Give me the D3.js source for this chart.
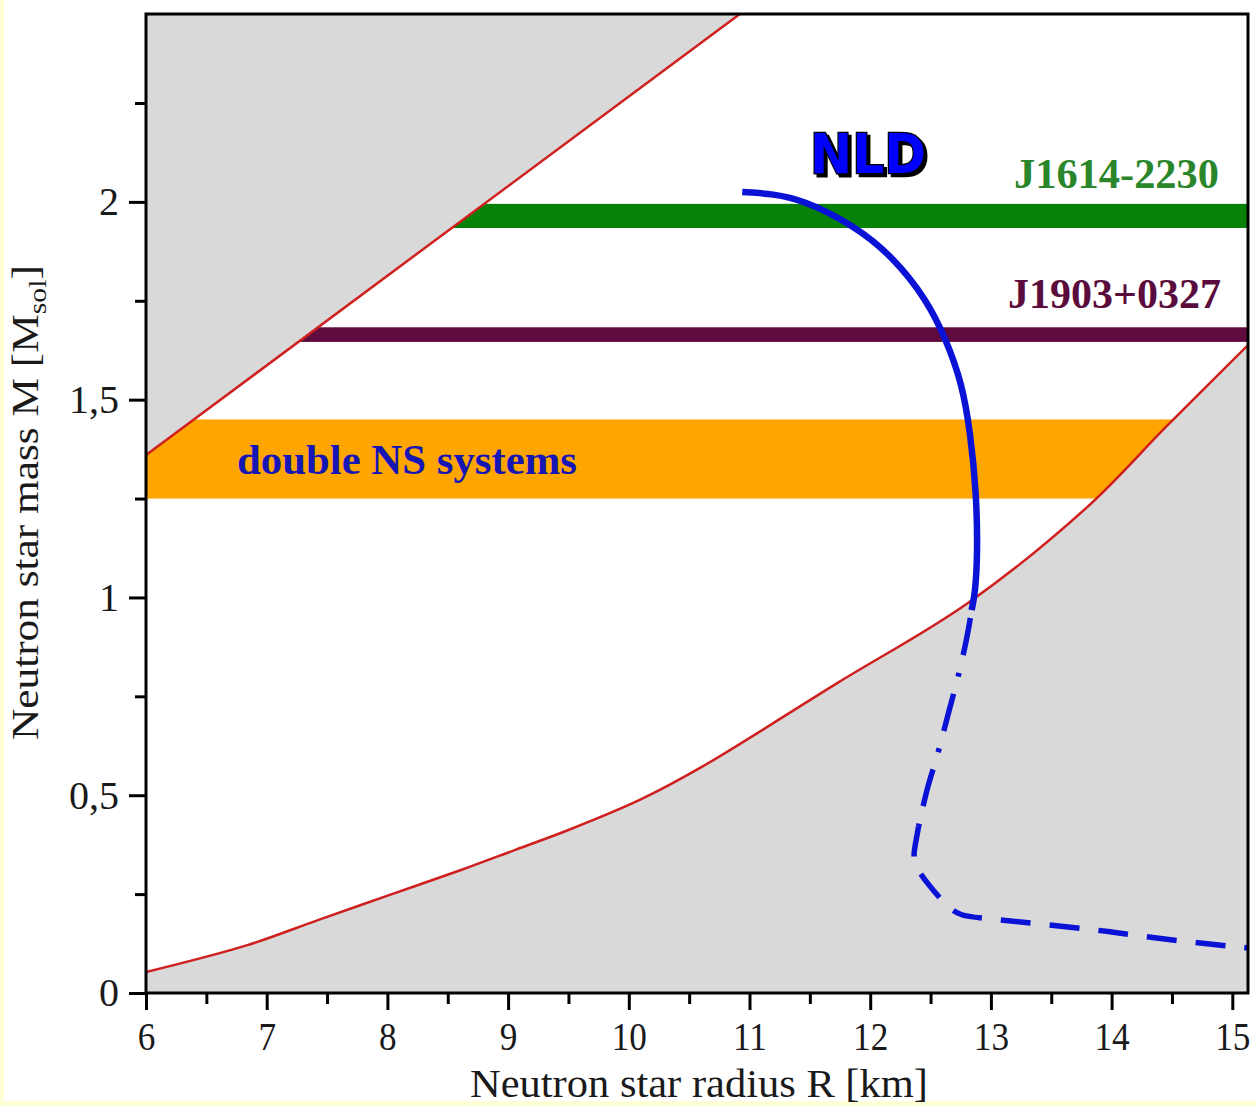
<!DOCTYPE html>
<html>
<head>
<meta charset="utf-8">
<script src="https://cdn.jsdelivr.net/npm/d3@7"></script>
<style>
  html, body { margin: 0; padding: 0; background: #ffffd6; }
  svg { display: block; }
</style>
</head>
<body>
<div id="chart"></div>
<script>
// mass-radius diagram values
const xTicks = [6, 7, 8, 9, 10, 11, 12, 13, 14, 15];
const yTicks = [0, 0.5, 1, 1.5, 2];
const yTickLabels = ["0", "0,5", "1", "1,5", "2"];

// causality limit (upper-left grey region)
const causalR = [6.0, 10.92];
const causalM = [1.36, 2.475];

// lower limit (lower-right grey region)
const lowerR = [6.0, 6.84, 7.43, 8.02, 8.61, 9.06, 9.50, 10.09, 10.59, 11.73, 12.81, 13.80, 14.45, 15.13];
const lowerM = [0.053, 0.121, 0.185, 0.248, 0.311, 0.362, 0.412, 0.488, 0.569, 0.784, 0.986, 1.229, 1.431, 1.638];

// measured masses
const bandNames = ["double NS systems", "J1903+0327", "J1614-2230"];
const bandLow = [1.25, 1.646, 1.934];
const bandHigh = [1.45, 1.683, 1.995];

// NLD equation of state: solid, dash-dot and dashed pieces
const nldSolidR = [10.94, 11.2, 11.44, 11.86, 12.19, 12.47, 12.63, 12.76, 12.83, 12.88, 12.89, 12.87, 12.84];
const nldSolidM = [2.025, 2.02, 2.005, 1.942, 1.861, 1.752, 1.651, 1.542, 1.416, 1.264, 1.112, 1.011, 0.968];
const nldDotR = [12.84, 12.81, 12.74, 12.64, 12.55, 12.48, 12.40];
const nldDotM = [0.968, 0.91, 0.81, 0.70, 0.59, 0.53, 0.42];
const nldDashR = [12.40, 12.37, 12.35, 12.47, 12.64, 12.75, 12.91, 13.5, 14.0, 14.5, 15.13];
const nldDashM = [0.42, 0.37, 0.33, 0.278, 0.217, 0.195, 0.19, 0.172, 0.155, 0.133, 0.114];

const width = 1256, height = 1106;
const margin = { top: 14, right: 8, bottom: 113, left: 146 };

const svg = d3.select("#chart").append("svg")
    .attr("width", width)
    .attr("height", height);

// white sheet, yellow border shows on left and bottom
svg.append("rect")
    .attr("x", 4).attr("y", 0)
    .attr("width", width - 4).attr("height", 1101)
    .attr("fill", "#ffffff");

const defs = svg.append("defs");

const x = d3.scaleLinear()
    .domain([6, 15.13])
    .range([margin.left, width - margin.right]);

const y = d3.scaleLinear()
    .domain([0, 2.475])
    .range([height - margin.bottom, margin.top]);

const [x0, x1] = x.domain();
const [y0, y1] = y.domain();

defs.append("clipPath").attr("id", "plot-clip")
    .append("rect")
    .attr("x", x(x0)).attr("y", y(y1))
    .attr("width", x(x1) - x(x0))
    .attr("height", y(y0) - y(y1));

defs.append("filter").attr("id", "nld-shadow")
    .attr("x", "-10%").attr("y", "-20%").attr("width", "130%").attr("height", "150%")
    .append("feDropShadow")
    .attr("dx", 3).attr("dy", 3)
    .attr("stdDeviation", 0.4)
    .attr("flood-color", "#000");

const plot = svg.append("g").attr("clip-path", "url(#plot-clip)");

// bands first, the grey regions hide their ends
const bandColors = ["#ffa500", "#600a3e", "#078107"];
plot.selectAll("rect.band")
    .data(bandNames)
    .join("rect")
    .attr("class", "band")
    .attr("x", x(x0))
    .attr("width", x(x1) - x(x0))
    .attr("y", (d, i) => y(bandHigh[i]))
    .attr("height", (d, i) => y(bandLow[i]) - y(bandHigh[i]))
    .attr("fill", (d, i) => bandColors[i]);

// grey excluded regions
const causalPts = causalR.map((r, i) => [r, causalM[i]]);
const lowerPts = lowerR.map((r, i) => [r, lowerM[i]]);

const curve = d3.line()
    .x(d => x(d[0])).y(d => y(d[1]))
    .curve(d3.curveCatmullRom);

plot.append("path")
    .attr("d", d3.area()
        .x(d => x(d[0])).y0(y(y1)).y1(d => y(d[1]))
        .curve(d3.curveCatmullRom)(causalPts))
    .attr("fill", "#d9d9d9");

plot.append("path")
    .attr("d", d3.area()
        .x(d => x(d[0])).y0(y(y0)).y1(d => y(d[1]))
        .curve(d3.curveCatmullRom)(lowerPts))
    .attr("fill", "#d9d9d9");

[causalPts, lowerPts].forEach(pts => {
    plot.append("path")
        .attr("d", curve(pts))
        .attr("fill", "none")
        .attr("stroke", "#cf1f1f")
        .attr("stroke-width", 2.5);
});

// NLD curve
const smooth = d3.line()
    .x(d => x(d[0])).y(d => y(d[1]))
    .curve(d3.curveBasis);

const nld = [
    { r: nldSolidR, m: nldSolidM, dash: null, offset: 0, w: 6.5 },
    { r: nldDotR, m: nldDotM, dash: "38,18,4,18", offset: 70, w: 5.5 },
    { r: nldDashR, m: nldDashM, dash: "30,19", offset: 0, w: 5.5 }
];

nld.forEach(part => {
    plot.append("path")
        .attr("d", smooth(part.r.map((r, i) => [r, part.m[i]])))
        .attr("fill", "none")
        .attr("stroke", "#0a12d6")
        .attr("stroke-width", part.w)
        .attr("stroke-dasharray", part.dash)
        .attr("stroke-dashoffset", part.offset);
});

// axes
const serif = "'Liberation Serif', 'Times New Roman', serif";

const xAxis = svg.append("g")
    .attr("transform", `translate(0,${y(y0)})`)
    .call(d3.axisBottom(x).tickValues(xTicks).tickSize(17).tickPadding(12).tickSizeOuter(0));

svg.append("g")
    .attr("transform", `translate(0,${y(y0)})`)
    .call(d3.axisBottom(x).tickValues(d3.range(6.5, 15, 1)).tickSize(11).tickFormat("").tickSizeOuter(0));

const yAxis = svg.append("g")
    .attr("transform", `translate(${x(x0)},0)`)
    .call(d3.axisLeft(y).tickValues(yTicks).tickSize(17).tickPadding(10).tickSizeOuter(0)
        .tickFormat((d, i) => yTickLabels[i]));

svg.append("g")
    .attr("transform", `translate(${x(x0)},0)`)
    .call(d3.axisLeft(y).tickValues(d3.range(0.25, 2.4, 0.5)).tickSize(11).tickFormat("").tickSizeOuter(0));

svg.selectAll(".tick line").attr("stroke", "#000").attr("stroke-width", 3);
svg.selectAll(".domain").remove();

[xAxis, yAxis].forEach(g => g.selectAll("text")
    .attr("font-family", serif)
    .attr("font-size", 40)
    .attr("fill", "#1a1a1a"));
xAxis.selectAll("text").attr("transform", "scale(0.88,1)");

// frame
svg.append("rect")
    .attr("x", x(x0)).attr("y", y(y1))
    .attr("width", x(x1) - x(x0))
    .attr("height", y(y0) - y(y1))
    .attr("fill", "none")
    .attr("stroke", "#000")
    .attr("stroke-width", 3);

// axis titles
svg.append("text")
    .attr("x", 699).attr("y", 1097)
    .attr("text-anchor", "middle")
    .attr("font-family", serif)
    .attr("font-size", 39)
    .attr("fill", "#1a1a1a")
    .attr("textLength", 458)
    .attr("lengthAdjust", "spacingAndGlyphs")
    .text("Neutron star radius R [km]");

const yTitle = svg.append("text")
    .attr("transform", "translate(38,740) rotate(-90) scale(1.14,1)")
    .attr("font-family", serif)
    .attr("font-size", 38)
    .attr("fill", "#1a1a1a");
yTitle.append("tspan").text("Neutron star mass M [M");
yTitle.append("tspan").attr("font-size", 26).attr("dy", 8).text("sol");
yTitle.append("tspan").attr("dy", -8).text("]");

// band labels
const labelStyle = [
    { x: 237, y: 474, anchor: "start", len: 340, color: "#1616b4" },
    { x: 1221, y: 308, anchor: "end", len: 213, color: "#5a0c3c" },
    { x: 1219, y: 188, anchor: "end", len: 205, color: "#2a862a" }
];

svg.selectAll("text.band-label")
    .data(bandNames)
    .join("text")
    .attr("class", "band-label")
    .attr("x", (d, i) => labelStyle[i].x)
    .attr("y", (d, i) => labelStyle[i].y)
    .attr("text-anchor", (d, i) => labelStyle[i].anchor)
    .attr("textLength", (d, i) => labelStyle[i].len)
    .attr("lengthAdjust", "spacingAndGlyphs")
    .attr("font-family", serif).attr("font-weight", "bold")
    .attr("font-size", 43)
    .attr("fill", (d, i) => labelStyle[i].color)
    .text(d => d);

// NLD label, blue with black outline and shadow
svg.append("text")
    .attr("x", 810).attr("y", 173)
    .attr("font-family", "'DejaVu Sans', sans-serif").attr("font-weight", "bold")
    .attr("font-size", 56)
    .attr("textLength", 116).attr("lengthAdjust", "spacingAndGlyphs")
    .attr("fill", "#0000ff").attr("stroke", "#000").attr("stroke-width", 2.5)
    .attr("paint-order", "stroke")
    .attr("filter", "url(#nld-shadow)")
    .text("NLD");
</script>
</body>
</html>
